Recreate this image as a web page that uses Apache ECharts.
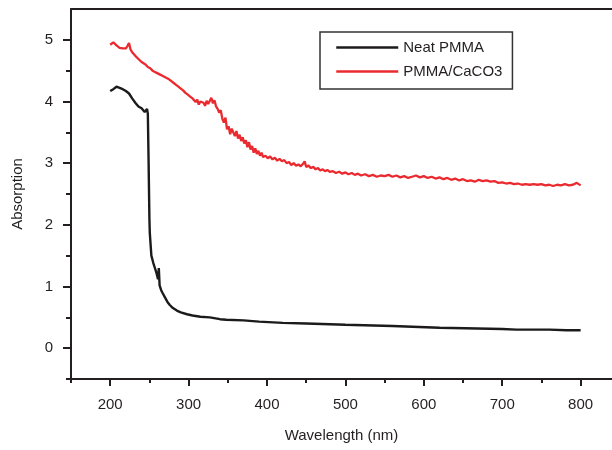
<!DOCTYPE html>
<html>
<head>
<meta charset="utf-8">
<script src="https://cdn.jsdelivr.net/npm/echarts@6/dist/echarts.min.js"></script>
<style>
  html, body { margin: 0; padding: 0; background: #fff; }
  #chart { width: 612px; height: 450px; }
</style>
</head>
<body>
<div id="chart"></div>
<script>
// 纯 PMMA
const neatWavelength = [200, 202, 204, 206, 208, 210, 212, 214, 216, 218, 220, 222, 224, 226, 228, 230, 232, 234, 236, 238, 240, 242, 244, 246, 247, 248, 249, 250, 250.5, 252.5, 255, 257, 259, 261, 262, 263, 265, 267, 270, 273, 276, 280, 285, 290, 298, 305, 315, 327, 340, 348, 370, 390, 420, 450, 500, 560, 620, 700, 718, 760, 782, 784, 786, 800];
const neatAbsorption = [4.17, 4.15, 4.20, 4.18, 4.24, 4.27, 4.22, 4.24, 4.20, 4.19, 4.17, 4.15, 4.13, 4.10, 4.05, 4.02, 3.98, 3.96, 3.92, 3.90, 3.89, 3.86, 3.83, 3.82, 3.88, 3.80, 3.00, 2.10, 1.87, 1.50, 1.38, 1.30, 1.22, 1.12, 1.30, 1.02, 0.94, 0.89, 0.82, 0.75, 0.70, 0.65, 0.61, 0.58, 0.55, 0.53, 0.51, 0.50, 0.47, 0.46, 0.45, 0.43, 0.41, 0.40, 0.38, 0.36, 0.33, 0.31, 0.30, 0.30, 0.29, 0.31, 0.29, 0.29];

// PMMA/CaCO3
const caco3Wavelength = [200, 202, 204, 206, 208, 210, 212, 214, 216, 218, 220, 222, 224, 226, 228, 230, 232, 234, 236, 238, 240, 242, 245, 248, 251, 254, 257, 260, 263, 266, 269, 272, 275, 278, 281, 284, 287, 290, 293, 296, 299, 302, 305, 307, 309, 311, 313, 315, 317, 319, 321, 323, 325, 327, 329, 331, 333, 335, 337, 339, 341, 343, 345, 347, 349, 351, 353, 355, 357, 359, 361, 363, 365, 367, 369, 371, 373, 375, 377, 379, 381, 383, 385, 387, 389, 391, 393, 395, 398, 401, 404, 407, 410, 413, 416, 419, 422, 425, 428, 431, 434, 437, 440, 443, 446, 448, 450, 453, 456, 459, 462, 465, 468, 471, 474, 477, 480, 484, 488, 492, 496, 500, 504, 508, 512, 516, 520, 525, 530, 535, 540, 545, 550, 555, 560, 565, 570, 575, 580, 585, 590, 595, 600, 605, 610, 615, 620, 625, 630, 635, 640, 645, 650, 655, 660, 665, 670, 675, 680, 685, 690, 695, 700, 705, 710, 715, 720, 725, 730, 735, 740, 745, 750, 755, 760, 765, 770, 775, 780, 785, 790, 795, 800];
const caco3Absorption = [4.92, 4.93, 4.96, 4.93, 4.91, 4.88, 4.87, 4.87, 4.86, 4.87, 4.86, 4.90, 4.95, 4.84, 4.80, 4.77, 4.74, 4.72, 4.69, 4.67, 4.64, 4.62, 4.60, 4.56, 4.54, 4.50, 4.48, 4.46, 4.44, 4.42, 4.40, 4.38, 4.36, 4.33, 4.30, 4.27, 4.24, 4.21, 4.18, 4.14, 4.11, 4.08, 4.05, 4.02, 3.99, 4.03, 3.95, 4.00, 4.02, 3.98, 3.93, 4.01, 3.96, 3.99, 4.06, 3.97, 4.02, 3.92, 3.88, 3.82, 3.86, 3.72, 3.66, 3.74, 3.55, 3.60, 3.47, 3.56, 3.50, 3.44, 3.52, 3.40, 3.46, 3.36, 3.42, 3.32, 3.37, 3.26, 3.34, 3.22, 3.28, 3.17, 3.24, 3.15, 3.20, 3.12, 3.17, 3.10, 3.12, 3.08, 3.11, 3.06, 3.09, 3.04, 3.07, 3.03, 3.05, 3.00, 3.02, 2.97, 3.00, 2.96, 2.98, 2.95, 2.99, 3.03, 2.94, 2.96, 2.92, 2.94, 2.90, 2.92, 2.88, 2.90, 2.87, 2.89, 2.86, 2.87, 2.84, 2.86, 2.83, 2.85, 2.82, 2.84, 2.81, 2.83, 2.80, 2.82, 2.79, 2.81, 2.78, 2.80, 2.79, 2.81, 2.78, 2.80, 2.77, 2.79, 2.76, 2.78, 2.80, 2.77, 2.79, 2.76, 2.78, 2.75, 2.77, 2.74, 2.76, 2.73, 2.75, 2.72, 2.74, 2.71, 2.72, 2.70, 2.73, 2.71, 2.72, 2.70, 2.71, 2.68, 2.69, 2.67, 2.68, 2.66, 2.67, 2.65, 2.66, 2.65, 2.66, 2.65, 2.66, 2.64, 2.65, 2.63, 2.65, 2.64, 2.66, 2.64, 2.65, 2.68, 2.64];

const xMajorTicks = [200, 300, 400, 500, 600, 700, 800];
const xMinorTicks = [150, 250, 350, 450, 550, 650, 750];
const yMajorTicks = [0, 1, 2, 3, 4, 5];
const yMinorTicks = [-0.5, 0.5, 1.5, 2.5, 3.5, 4.5];

const zip = (xs, ys) => xs.map((x, i) => [x, ys[i]]);

const fontFamily = '"Liberation Sans", Arial, sans-serif';
const axisColor = '#231f20';

const chart = echarts.init(document.getElementById('chart'));
chart.setOption({
  animation: false,
  grid: { left: 71, right: 0, top: 9, bottom: 71 },
  legend: {
    left: 320,
    top: 32,
    orient: 'vertical',
    itemWidth: 62,
    itemHeight: 14,
    itemGap: 9,
    padding: [8, 10, 10, 15],
    borderColor: '#333',
    borderWidth: 1.5,
    itemStyle: { opacity: 0 },
    lineStyle: { width: 2.5 },
    textStyle: { fontSize: 15, color: axisColor, fontFamily: fontFamily },
    data: ['Neat PMMA', 'PMMA/CaCO3']
  },
  xAxis: [
    {
      type: 'value',
      min: 150,
      max: 840,
      name: 'Wavelength (nm)',
      nameLocation: 'middle',
      nameGap: 49,
      nameTextStyle: { fontSize: 15, color: axisColor, fontFamily: fontFamily },
      axisLine: { onZero: false, lineStyle: { color: axisColor, width: 2 } },
      axisTick: { customValues: xMajorTicks, length: 7, lineStyle: { color: axisColor, width: 2 } },
      axisLabel: { customValues: xMajorTicks, margin: 18, fontSize: 15, color: axisColor, fontFamily: fontFamily },
      splitLine: { show: false }
    },
    {
      type: 'value',
      min: 150,
      max: 840,
      position: 'bottom',
      axisLine: { show: false, onZero: false },
      axisTick: { customValues: xMinorTicks, length: 4, lineStyle: { color: axisColor, width: 2 } },
      axisLabel: { show: false },
      splitLine: { show: false }
    },
    {
      type: 'value',
      min: 150,
      max: 840,
      position: 'top',
      axisLine: { onZero: false, lineStyle: { color: axisColor, width: 2 } },
      axisTick: { show: false },
      axisLabel: { show: false },
      splitLine: { show: false }
    }
  ],
  yAxis: [
    {
      type: 'value',
      min: -0.5,
      max: 5.5,
      name: 'Absorption',
      nameLocation: 'middle',
      nameGap: 46,
      nameTextStyle: { fontSize: 15, color: axisColor, fontFamily: fontFamily },
      axisLine: { onZero: false, lineStyle: { color: axisColor, width: 2 } },
      axisTick: { customValues: yMajorTicks, length: 8, lineStyle: { color: axisColor, width: 2 } },
      axisLabel: { customValues: yMajorTicks, margin: 18, fontSize: 15, color: axisColor, fontFamily: fontFamily },
      splitLine: { show: false }
    },
    {
      type: 'value',
      min: -0.5,
      max: 5.5,
      position: 'left',
      axisLine: { show: false, onZero: false },
      axisTick: { customValues: yMinorTicks, length: 5, lineStyle: { color: axisColor, width: 2 } },
      axisLabel: { show: false },
      splitLine: { show: false }
    }
  ],
  series: [
    {
      name: 'Neat PMMA',
      type: 'line',
      symbol: 'none',
      color: '#1c1a1b',
      lineStyle: { width: 2.4, color: '#1c1a1b' },
      data: zip(neatWavelength, neatAbsorption)
    },
    {
      name: 'PMMA/CaCO3',
      type: 'line',
      symbol: 'none',
      color: '#ea2a2f',
      lineStyle: { width: 2.3, color: '#ea2a2f' },
      data: zip(caco3Wavelength, caco3Absorption)
    }
  ]
});
</script>
</body>
</html>
